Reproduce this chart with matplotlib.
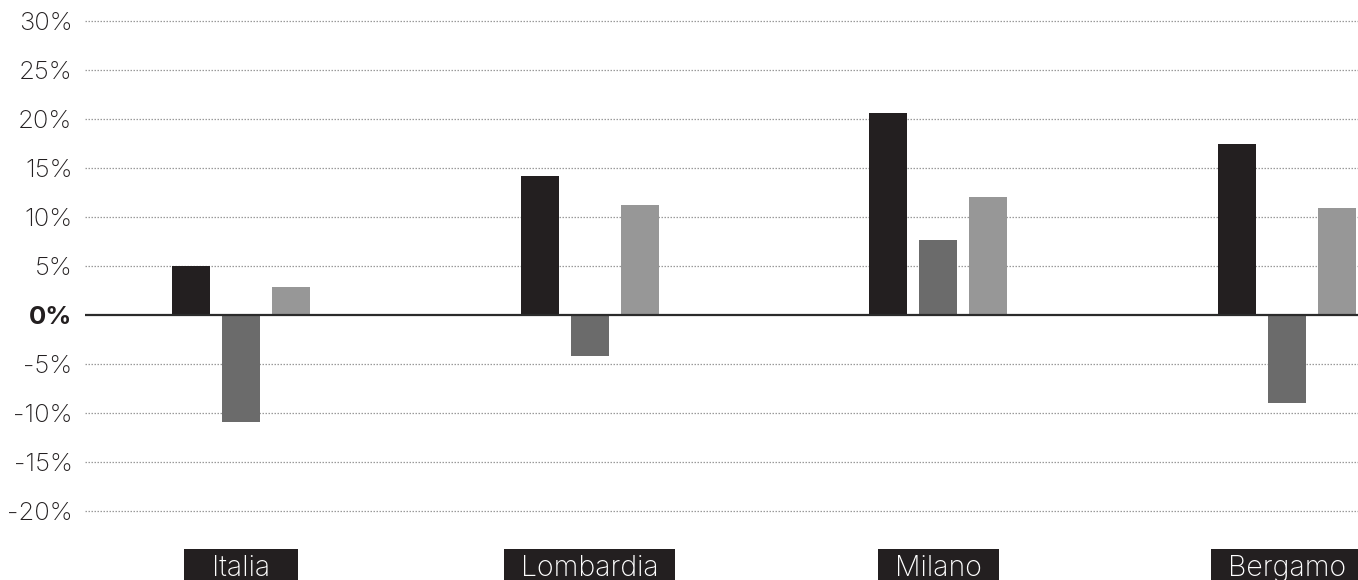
import matplotlib
matplotlib.use("Agg")
import matplotlib.pyplot as plt
import matplotlib.transforms as mtransforms
from matplotlib.patches import Rectangle
import numpy as np

# Variazioni percentuali per area geografica
categories = ["Italia", "Lombardia", "Milano", "Bergamo"]
series_a = [5.0, 14.2, 20.6, 17.5]
series_b = [-10.9, -4.2, 7.7, -9.0]
series_c = [2.9, 11.2, 12.1, 10.9]
y_ticks = [-20, -15, -10, -5, 0, 5, 10, 15, 20, 25, 30]

colors = ["#231f20", "#6b6b6b", "#979797"]
plt.rcParams["font.family"] = ["Inter", "DejaVu Sans"]

W, H = 1358, 580
fig = plt.figure(figsize=(W / 100, H / 100), dpi=100)
ax = fig.add_axes([85 / W, 1 - 510.7 / H, 1 - 85 / W, (510.7 - 21.3) / H])

x = np.arange(len(categories))
width = 0.109
offset = 0.1434
for i, (vals, col) in enumerate(zip([series_a, series_b, series_c], colors)):
    ax.bar(x + (i - 1) * offset, vals, width=width, color=col, zorder=3)

ax.set_xlim(-0.447, 3.203)
ax.set_ylim(-20, 30)

# Griglia orizzontale tratteggiata e linea dello zero
for t in y_ticks:
    if t == 0:
        ax.axhline(0, color="#2b2b2b", lw=1.6, zorder=4)
    else:
        ax.axhline(t, color="#9a9a9a", lw=0.9, ls=(0, (1.2, 1.2)), zorder=1, clip_on=False)

ax.set_yticks(y_ticks)
ax.set_yticklabels([f"{t}%" for t in y_ticks])
for lab, t in zip(ax.get_yticklabels(), y_ticks):
    lab.set_fontsize(18.5)
    lab.set_color("#231f20")
    lab.set_fontweight("bold" if t == 0 else "light")
ax.tick_params(axis="y", length=0, pad=9)
ax.set_xticks([])
for s in ax.spines.values():
    s.set_visible(False)

# Etichette delle categorie in riquadri scuri (tagliati dal bordo inferiore)
trans = mtransforms.blended_transform_factory(ax.transData, ax.transAxes)
labels = []
for xi, name in zip(x, categories):
    labels.append(ax.text(xi, -0.1334, name, transform=trans, ha="center",
                          va="baseline", fontsize=20.5, color="white",
                          fontweight="light", clip_on=False, zorder=6))

fig.canvas.draw()
renderer = fig.canvas.get_renderer()
pad_x = 17
min_w = 114
box_top = H - 549
for lab in labels:
    ext = lab.get_window_extent(renderer)
    cx = 0.5 * (ext.x0 + ext.x1)
    bw = max(ext.width + 2 * pad_x, min_w)
    x0 = cx - bw / 2
    box = Rectangle((x0 / W, -0.05), bw / W, box_top / H + 0.05,
                    transform=fig.transFigure, facecolor="#231f20",
                    edgecolor="none", zorder=5, clip_on=False)
    ax.add_patch(box)

fig.savefig("out.png", dpi=100)
